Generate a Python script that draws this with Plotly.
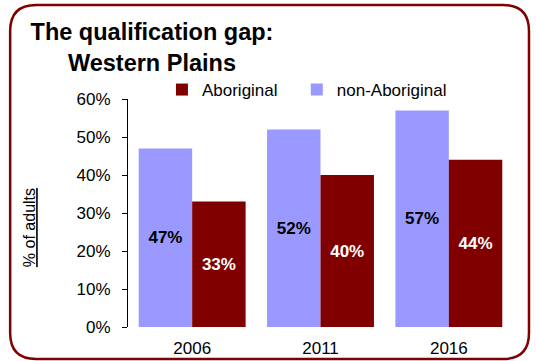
import plotly.graph_objects as go

# Census years and share of adults with a post-school qualification
years = ["2006", "2011", "2016"]
non_aboriginal = [47, 52, 57]
aboriginal = [33, 40, 44]
y_ticks = [0, 10, 20, 30, 40, 50, 60]
y_tick_labels = [f"{v}%" for v in y_ticks]

W, H = 537, 361
L, R, T, B = 128, 23.5, 99, 34
PW, PH = W - L - R, H - T - B


def px_to_paper(x, y):
    return (x - L) / PW, (H - B - y) / PH


def rounded_rect(x0, y0, x1, y1, r):
    pts = [
        ("M", [(x0 + r, y0)]),
        ("L", [(x1 - r, y0)]),
        ("Q", [(x1, y0), (x1, y0 + r)]),
        ("L", [(x1, y1 - r)]),
        ("Q", [(x1, y1), (x1 - r, y1)]),
        ("L", [(x0 + r, y1)]),
        ("Q", [(x0, y1), (x0, y1 - r)]),
        ("L", [(x0, y0 + r)]),
        ("Q", [(x0, y0), (x0 + r, y0)]),
    ]
    out = []
    for cmd, ps in pts:
        coords = " ".join("%.5f,%.5f" % px_to_paper(px, py) for px, py in ps)
        out.append(cmd + " " + coords)
    return " ".join(out) + " Z"


FONT = "Arial, Liberation Sans, sans-serif"
BLUE = "#9999FF"
MAROON = "#800000"

fig = go.Figure()
fig.add_trace(go.Bar(
    name="non-Aboriginal", x=years, y=non_aboriginal,
    marker=dict(color=BLUE, line=dict(width=0)),
    text=[f"{v}%" for v in non_aboriginal], textposition="inside",
    insidetextanchor="middle",
    textfont=dict(family=FONT, size=17, color="black", weight="bold"),
    legend="legend2",
))
fig.add_trace(go.Bar(
    name="Aboriginal", x=years, y=aboriginal,
    marker=dict(color=MAROON, line=dict(width=0)),
    text=[f"{v}%" for v in aboriginal], textposition="inside",
    insidetextanchor="middle",
    textfont=dict(family=FONT, size=17, color="white", weight="bold"),
    legend="legend",
))

l1x, ly = px_to_paper(162, 90)
l2x, _ = px_to_paper(297, 90)
tx, _ = px_to_paper(152, 0)
ax_x, ax_y = px_to_paper(29, 228)

legend_common = dict(
    orientation="h", y=ly, xanchor="left", yanchor="middle",
    font=dict(size=17), bgcolor="rgba(0,0,0,0)",
    itemclick=False, itemdoubleclick=False,
)

fig.update_layout(
    width=W, height=H,
    margin=dict(l=L, r=R, t=T, b=B, autoexpand=False),
    paper_bgcolor="white", plot_bgcolor="white",
    font=dict(family=FONT, size=17, color="black"),
    barmode="group", bargap=0.167, bargroupgap=0,
    showlegend=True,
    legend=dict(x=l1x, **legend_common),
    legend2=dict(x=l2x, **legend_common),
    title=dict(
        text="<b>The qualification gap:<br>Western Plains</b>",
        font=dict(size=23.5, color="black"),
        x=tx, xref="paper", xanchor="center",
        y=1 - 40 / H, yref="container", yanchor="middle",
    ),
    xaxis=dict(
        showline=False, ticks="", showgrid=False, automargin=False,
        tickfont=dict(size=17), ticklabelstandoff=9,
    ),
    yaxis=dict(
        range=[0, 60], tickmode="array", tickvals=y_ticks, ticktext=y_tick_labels,
        showline=True, linecolor="black", linewidth=1,
        ticks="outside", ticklen=5, tickcolor="black",
        showgrid=False, zeroline=False, automargin=False,
        tickfont=dict(size=17), ticklabelstandoff=8,
    ),
    annotations=[dict(
        text="<u>% of adults</u>", x=ax_x, y=ax_y, xref="paper", yref="paper",
        textangle=-90, showarrow=False, font=dict(size=16),
        xanchor="center", yanchor="middle",
    )],
    shapes=[dict(
        type="path", xref="paper", yref="paper",
        path=rounded_rect(10, 5, 529.5, 359, 26),
        line=dict(color=MAROON, width=2.5), layer="above",
    )],
)

fig.write_html("out.html")
